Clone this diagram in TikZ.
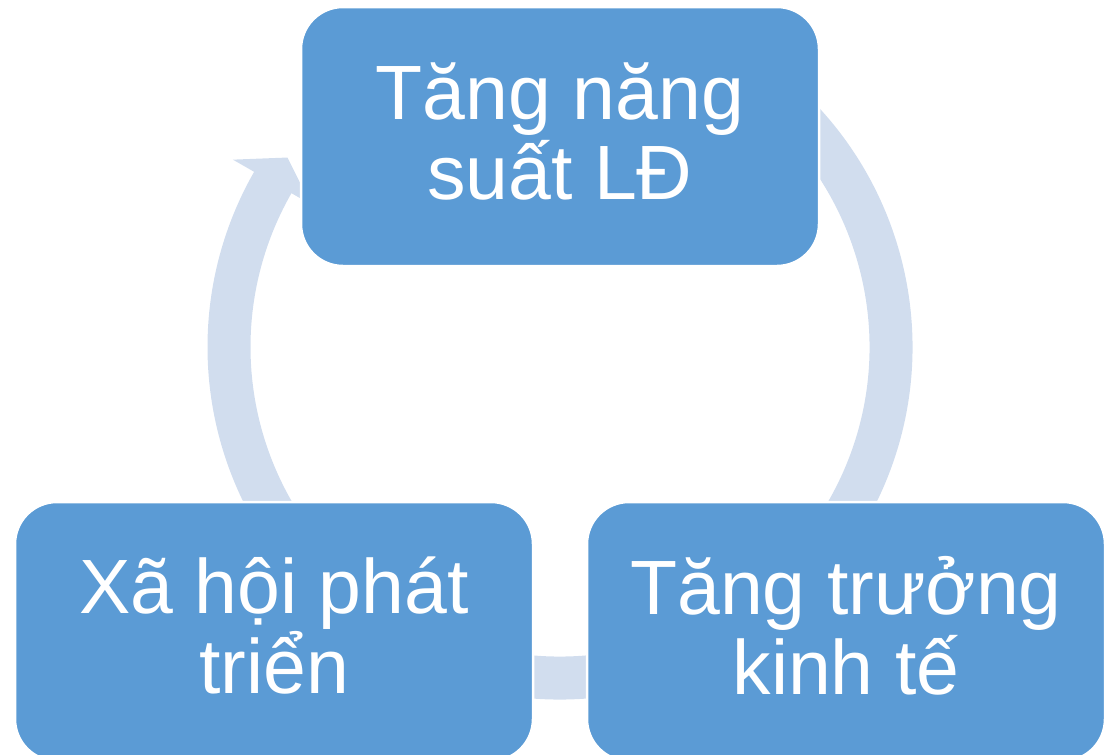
\documentclass[tikz,border=0pt]{standalone}
\usepackage{fontspec}
\setmainfont{Liberation Sans}
\usetikzlibrary{calc}
\definecolor{boxblue}{RGB}{91,155,213}
\definecolor{ringblue}{RGB}{209,221,238}
\begin{document}
\begin{tikzpicture}[x=1pt,y=-1pt,
  box/.style={rectangle, rounded corners=42pt, fill=boxblue, draw=white, line width=2.5pt,
              minimum width=518pt, minimum height=259pt, inner sep=0pt},
  txt/.style={text=white, align=center, font=\fontsize{77}{80}\selectfont, inner sep=0pt},
  ring/.style={draw=ringblue, line width=43pt, line cap=butt}]
\useasboundingbox (0,0) rectangle (1109,755);
\clip (0,0) rectangle (1109,755);
\coordinate (c) at (560,347);
% circular arrow behind the boxes
\draw[ring] ($(c)+(-60:331)$) arc[start angle=-60, end angle=210.3, radius=331];
\fill[ringblue, shift={(c)}] (209.8:377) -- (214.8:332) -- (209.8:287) -- cycle;
% boxes
\node[box] (top) at (560,136.5) {};
\node[box] (bl) at (274,631.5) {};
\node[box] (br) at (846,631.5) {};
% texts
\node[txt] (toptext) at (560,131) {Tăng năng\\suất LĐ};
\node[txt] (bltext) at (274,626) {Xã hội phát\\triển};
\node[txt] (brtext) at (846,626) {Tăng trưởng\\kinh tế};
\end{tikzpicture}
\end{document}
